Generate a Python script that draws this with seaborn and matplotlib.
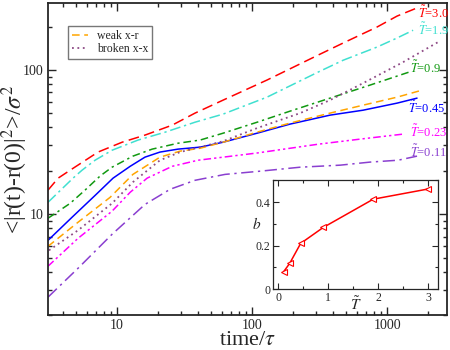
import numpy as np
import pandas as pd
import matplotlib
matplotlib.use("Agg")
import matplotlib.pyplot as plt
import matplotlib.ticker as mticker
import seaborn as sns

# mean square displacement curves
t_30 = [3.08, 3.66, 4.49, 7.23, 10.9, 16.1, 25.6, 37.8, 61, 129, 308, 472, 843, 1186, 1667]
m_30 = [14.7, 17.8, 20.2, 27.0, 31.6, 35.4, 41.5, 50.3, 61.9, 85.3, 127, 154, 199, 237, 270]

t_19 = [3.08, 4.72, 5.5, 6.87, 9.18, 14.3, 22.7, 37.8, 61, 129, 308, 472, 843, 1186, 1559]
m_19 = [12.1, 17.8, 20.2, 23.7, 27.8, 32.7, 37.1, 43.5, 49.5, 64.9, 96.8, 117, 144.5, 167, 189]

t_09 = [3.08, 4.49, 5.79, 7.48, 9.18, 13.1, 18.2, 28.3, 41.2, 61, 109, 191, 378, 748, 1531]
m_09 = [9.38, 11.9, 14.7, 18.4, 21.2, 25.3, 28.3, 31.1, 32.7, 36.5, 43.5, 51.9, 63.9, 78.7, 98.4]

t_045 = [3.08, 4.64, 6.87, 9.34, 12.5, 16.1, 20.8, 28.3, 41.2, 61, 109, 191, 378, 664, 1186, 1667]
m_045 = [6.59, 9.53, 13.5, 17.8, 21.5, 24.9, 27.0, 28.3, 29.2, 31.6, 36.5, 42.2, 48.7, 52.7, 59.0, 63.9]

t_weak = [3.08, 5.14, 8.88, 13.1, 20.8, 29.3, 41.2, 61, 109, 191, 378, 664, 1186, 1816]
m_weak = [5.99, 8.80, 13.1, 18.9, 24.9, 27.4, 28.7, 31.6, 37.1, 42.9, 50.3, 57.1, 64.9, 72.6]

t_broken = [3.13, 5.14, 9.18, 13.1, 20.8, 29.3, 41.2, 61, 109, 227, 378, 687, 1315, 2387]
m_broken = [5.62, 7.74, 11.9, 16.7, 23.7, 27.0, 29.2, 32.1, 39.6, 50.3, 61.9, 82.5, 113.6, 156.4]

t_023 = [3.08, 5.14, 9.18, 12.5, 16.7, 25.6, 39.8, 109, 308, 631, 1291]
m_023 = [4.36, 6.81, 10.5, 14.2, 17.8, 21.5, 23.7, 26.6, 30.6, 33.2, 35.9]

t_011 = [3.08, 5.14, 9.18, 16.1, 24.7, 37.8, 63.1, 115, 227, 449, 748, 1205, 1667]
m_011 = [2.66, 4.22, 7.26, 11.7, 14.9, 17.2, 18.9, 19.9, 21.2, 21.9, 23.0, 23.7, 25.3]

# inset: exponent b vs temperature
T_vals = [0.11, 0.23, 0.45, 0.9, 1.9, 3.0]
b_vals = [0.08, 0.118, 0.21, 0.283, 0.413, 0.46]

curve_labels = ["3.0", "1.9", "0.9", "0.45", "0.23", "0.11"]

sns.set_style("ticks")
plt.rcParams['font.family'] = ['Liberation Serif', 'DejaVu Serif']
plt.rcParams['mathtext.fontset'] = 'stix'
plt.rcParams['xtick.direction'] = 'in'
plt.rcParams['ytick.direction'] = 'in'

fig = plt.figure(figsize=(4.5, 3.5), dpi=100)
ax = fig.add_axes([0.1067, 0.1, 0.8867, 0.8914])

curves = [
    (t_30, m_30, '#ff0000', (0, (7, 3.5))),
    (t_19, m_19, '#40e0d0', (0, (7, 2.5, 1.5, 2.5))),
    (t_09, m_09, '#119911', (0, (5, 2.5, 1.5, 2.5))),
    (t_045, m_045, '#0000ff', '-'),
    (t_023, m_023, '#ff00ff', (0, (5, 2, 1.5, 2, 1.5, 2))),
    (t_011, m_011, '#8a3fd0', (0, (8, 3, 1.5, 3))),
]
for tt, mm, col, ls in curves:
    sns.lineplot(x=tt, y=mm, ax=ax, color=col, linestyle=ls, lw=1.1, sort=False)

sns.lineplot(x=t_weak, y=m_weak, ax=ax, color='#ffa500', linestyle=(0, (5, 3)),
             lw=1.1, sort=False)
sns.lineplot(x=t_broken, y=m_broken, ax=ax, color='#8e4a86', linestyle=(0, (1, 2)),
             lw=1.3, sort=False)

ax.set_xscale('log')
ax.set_yscale('log')
ax.set_xlim(3.08, 2780)
ax.set_ylim(2.0, 292)

ax.set_xticks([10, 100, 1000], ['10', '100', '1000'])
ax.set_yticks([10, 100], ['10', '100'])
ax.xaxis.set_minor_locator(mticker.LogLocator(base=10, subs=np.arange(2, 10)))
ax.yaxis.set_minor_locator(mticker.LogLocator(base=10, subs=np.arange(2, 10)))
ax.xaxis.set_minor_formatter(mticker.NullFormatter())
ax.yaxis.set_minor_formatter(mticker.NullFormatter())
ax.tick_params(which='both', top=True, right=True, width=1.0, labelsize=10, pad=3)
ax.tick_params(which='major', length=6)
ax.tick_params(which='minor', length=3)
for sp in ax.spines.values():
    sp.set_linewidth(1.3)

ax.set_xlabel(r'time/$\tau$', fontsize=16, labelpad=-1)
ax.set_ylabel(r'<|r(t)-r(0)|$^2$>/$\sigma^2$', fontsize=17)
ax.yaxis.set_label_coords(-0.045, 0.5)

# temperature labels at curve ends
lab_x = [1698, 1698, 1480, 1432, 1480, 1480]
lab_y = [249, 189, 103, 54.5, 37.1, 27.0]
for (tt, mm, col, ls), lx, ly, lab in zip(curves, lab_x, lab_y, curve_labels):
    ax.text(lx, ly, r'$\tilde{T}$=' + lab, color=col, fontsize=9,
            ha='left', va='center')

handles = ax.get_lines()[-2:]
leg = ax.legend(handles, ['weak x-r', 'broken x-x'], loc='upper left',
                bbox_to_anchor=(0.05, 0.925), borderaxespad=0, fontsize=8.5,
                handlelength=1.4, handletextpad=0.8, fancybox=False,
                framealpha=1, edgecolor='#777777', borderpad=0.3,
                labelspacing=0.1)
leg.get_frame().set_linewidth(1.0)

# inset
ins = fig.add_axes([0.607, 0.174, 0.367, 0.311])
sns.lineplot(x=T_vals, y=b_vals, ax=ins, color='#ff0000', lw=1.1, marker='<',
             markersize=4.5, markerfacecolor='white', markeredgecolor='#ff0000',
             markeredgewidth=0.8, sort=False)
ins.set_xlim(-0.1, 3.2)
ins.set_ylim(0, 0.5)
ins.set_xticks([0, 1, 2, 3], ['0', '1', '2', '3'])
ins.set_yticks([0, 0.2, 0.4], ['0', '0.2', '0.4'])
ins.xaxis.set_minor_locator(mticker.MultipleLocator(0.5))
ins.yaxis.set_minor_locator(mticker.MultipleLocator(0.1))
ins.tick_params(which='both', top=True, right=True, labelsize=8.5, pad=2, width=0.8)
ins.tick_params(which='major', length=4)
ins.tick_params(which='minor', length=2.5)
for sp in ins.spines.values():
    sp.set_linewidth(0.9)
ins.set_xlabel(r'$\tilde{T}$', fontsize=11, labelpad=-6)
ins.set_ylabel(r'$b$', fontsize=11, rotation=0, va='center', ha='center')
ins.yaxis.set_label_coords(-0.1, 0.6)

fig.savefig('out.png', dpi=100)
